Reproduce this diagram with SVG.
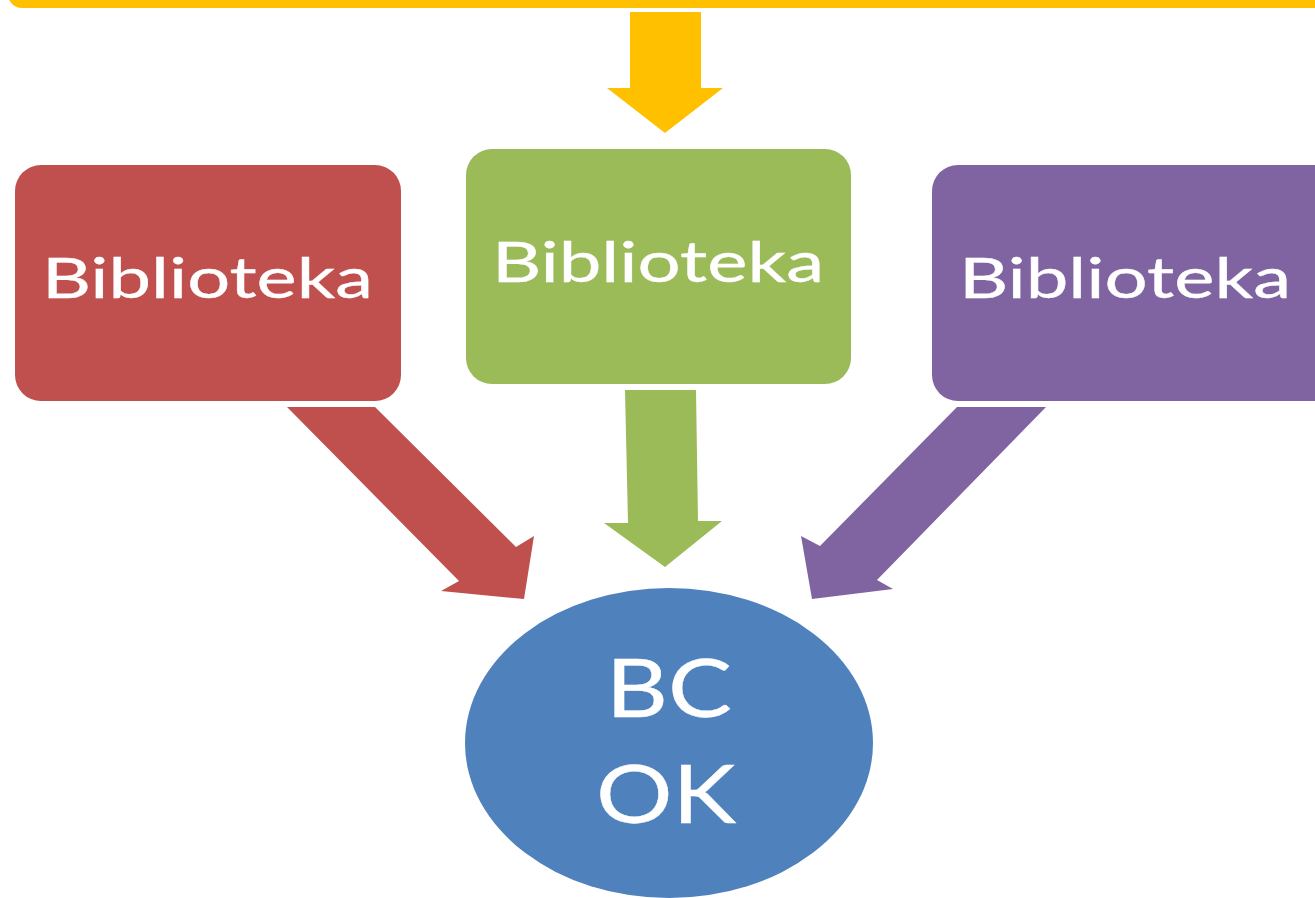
<svg xmlns="http://www.w3.org/2000/svg" width="1315" height="898" viewBox="0 0 1315 898">
<style>
.lbl{font-family:Lato,"Open Sans",sans-serif;fill:#ffffff;stroke:#ffffff;stroke-width:0.4px;}
.box{font-size:56px;}
.big{font-size:82px;}
</style>
<rect width="1315" height="898" fill="#ffffff"/>
<g id="top-banner">
<rect x="8" y="-40" width="1340" height="48" rx="14" ry="14" fill="#FFC000"/>
</g>
<g id="connectors">
<polygon id="arrow-top" points="630,12 701,12 701,88 723,88 665,133 607,88 630,88" fill="#FFC000"/>
<polygon id="arrow-red" points="287,407 375,407 516,547 534,536 524,599 441,591 459,581" fill="#C0504D"/>
<polygon id="arrow-green" points="625,390 696,390 698,521 722,521 665,567 604,523 628,523" fill="#9BBB59"/>
<polygon id="arrow-purple" points="957,407 1046,407 877,580 893,589 812,599 801,536 820,546" fill="#8064A2"/>
</g>
<g id="node-red">
<rect x="15" y="165" width="386" height="236" rx="26" ry="26" fill="#C0504D"/>
<text class="lbl box" x="42" y="298" textLength="331" lengthAdjust="spacingAndGlyphs">Biblioteka</text>
</g>
<g id="node-green">
<rect x="466" y="149" width="385" height="235" rx="26" ry="26" fill="#9BBB59"/>
<text class="lbl box" x="492" y="282" textLength="332" lengthAdjust="spacingAndGlyphs">Biblioteka</text>
</g>
<g id="node-purple">
<rect x="932" y="165" width="410" height="236" rx="26" ry="26" fill="#8064A2"/>
<text class="lbl box" x="959" y="298" textLength="332" lengthAdjust="spacingAndGlyphs">Biblioteka</text>
</g>
<g id="node-bcok">
<ellipse cx="669" cy="743" rx="204" ry="155" fill="#4F81BD"/>
<text class="lbl big" x="606" y="717" textLength="126" lengthAdjust="spacingAndGlyphs">BC</text>
<text class="lbl big" x="596" y="823" textLength="140" lengthAdjust="spacingAndGlyphs">OK</text>
</g>
</svg>
